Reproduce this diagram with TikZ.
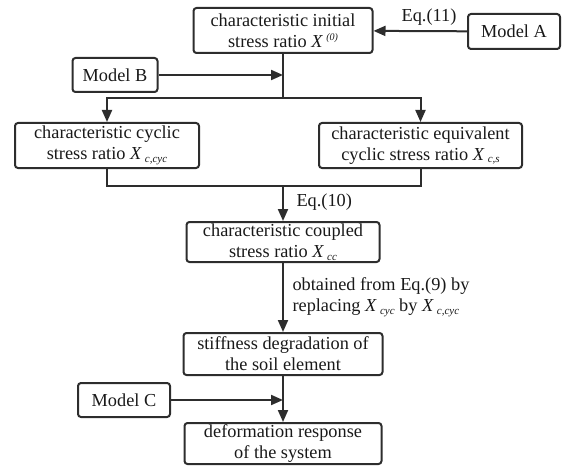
\documentclass[tikz,border=0pt]{standalone}
\usepackage{fontspec}
\setmainfont{Liberation Serif}
\usetikzlibrary{arrows.meta}
\definecolor{linegray}{RGB}{45,45,45}
\newcommand{\subratio}[2]{\textit{#1}\,\raisebox{-0.3ex}{\fontsize{11}{11}\selectfont\textit{#2}}}
\newcommand{\supratio}[2]{\textit{#1}\,\raisebox{0.8ex}{\fontsize{10}{10}\selectfont\textit{#2}}}

\begin{document}
\begin{tikzpicture}[x=1pt, y=-1pt, font=\fontsize{18.3}{21}\selectfont, text=black!90,
    box/.style={draw=linegray, line width=2pt, rounded corners=3pt, align=center, inner sep=0pt},
    flow/.style={draw=linegray, line width=2pt, -{Triangle[length=12pt,width=10pt]}},
    link/.style={draw=linegray, line width=2pt}]
  \useasboundingbox (0,0) rectangle (569,465);
  % Boxes of the chain
  \node[box, minimum width=179, minimum height=45] (init) at (283,30.5)
    {characteristic initial\\stress ratio \supratio{X}{(0)}};
  \node[box, minimum width=92, minimum height=35] (modA) at (514,31.5) {Model A};
  \node[box, minimum width=85, minimum height=34] (modB) at (115,75) {Model B};
  \node[box, minimum width=184, minimum height=45] (cyc) at (107,145.5)
    {characteristic cyclic\\stress ratio \subratio{X}{c,cyc}};
  \node[box, minimum width=203, minimum height=45] (equ) at (420.5,145.5)
    {characteristic equivalent\\cyclic stress ratio \subratio{X}{c,s}};
  \node[box, minimum width=193, minimum height=40] (coup) at (283,242)
    {characteristic coupled\\stress ratio \subratio{X}{cc}};
  \node[box, minimum width=199, minimum height=42] (stiff) at (283,354)
    {stiffness degradation of\\the soil element};
  \node[box, minimum width=92, minimum height=34] (modC) at (124,400) {Model C};
  \node[box, minimum width=197, minimum height=41] (resp) at (283,443.5)
    {deformation response\\of the system};
  % Junctions
  \coordinate (split) at (283,98);
  \coordinate (merge) at (283,186);
  % Labels
  \node (eqA) at (429,17) {Eq.(11)};
  \node[anchor=west] (eqB) at (293,202) {Eq.(10)};
  \node[anchor=west, align=left] (eqC) at (289,297.5)
    {obtained from Eq.(9) by\\replacing \subratio{X}{cyc} by \subratio{X}{c,cyc}};
  % Connectors
  \draw[flow] (modA) -- (init);
  \draw[link] (init) -- (split);
  \draw[flow] (modB) -- (modB -| split);
  \draw[flow] (split) -| (cyc);
  \draw[flow] (split) -| (equ);
  \draw[link] (cyc) |- (merge) -| (equ);
  \draw[flow] (merge) -- (coup);
  \draw[flow] (coup) -- (stiff);
  \draw[flow] (stiff) -- (resp);
  \draw[flow] (modC) -- (modC -| resp);
\end{tikzpicture}
\end{document}
